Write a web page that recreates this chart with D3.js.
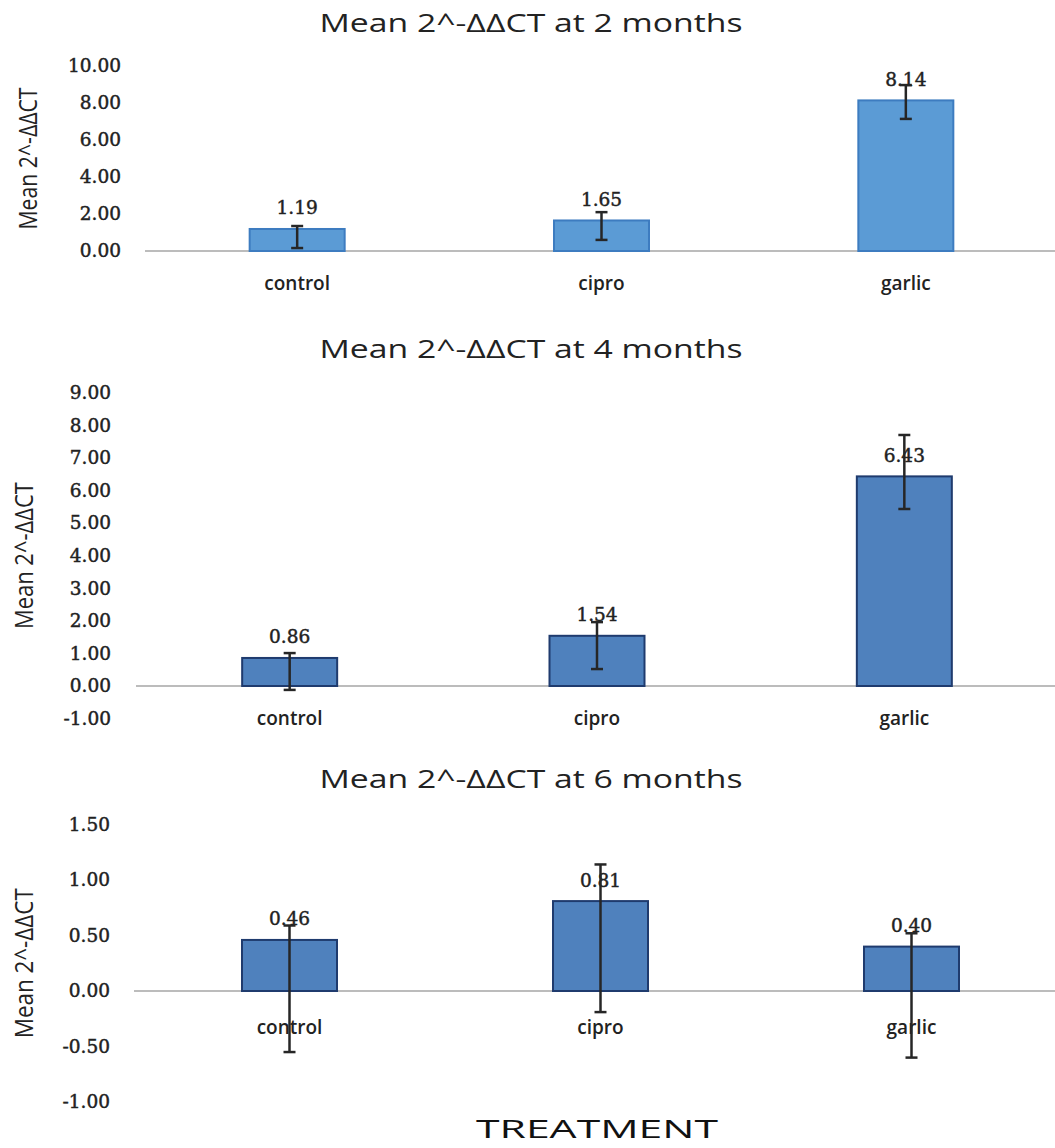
<!DOCTYPE html>
<html>
<head>
<meta charset="utf-8">
<script src="https://cdn.jsdelivr.net/npm/d3@7/dist/d3.min.js"></script>
<style>
  html, body { margin: 0; padding: 0; background: #fff; }
  svg { display: block; }
</style>
</head>
<body>
<svg id="chart" width="1055" height="1148"></svg>
<script>
// ---- data ----
const categories = ["control", "cipro", "garlic"];
const titles = ["Mean 2^-ΔΔCT at 2 months", "Mean 2^-ΔΔCT at 4 months", "Mean 2^-ΔΔCT at 6 months"];
const yAxisLabel = "Mean 2^-ΔΔCT";
const xAxisLabel = "TREATMENT";

const means2 = [1.19, 1.65, 8.14];
const errHigh2 = [1.35, 2.10, 8.97];
const errLow2 = [0.16, 0.60, 7.14];

const means4 = [0.86, 1.54, 6.43];
const errHigh4 = [1.01, 1.96, 7.70];
const errLow4 = [-0.12, 0.52, 5.43];

const means6 = [0.46, 0.81, 0.40];
const errHigh6 = [0.59, 1.14, 0.52];
const errLow6 = [-0.55, -0.19, -0.60];

const ticks2 = [0, 2, 4, 6, 8, 10];
const ticks4 = [-1, 0, 1, 2, 3, 4, 5, 6, 7, 8, 9];
const ticks6 = [-1, -0.5, 0, 0.5, 1, 1.5];

// ---- layout ----
const panels = [
  { title: titles[0], means: means2, hi: errHigh2, lo: errLow2, ticks: ticks2, domain: [0, 10], yRange: [251, 66],
    xRange: [145, 1058], tickPad: 24, titleY: 32, yLabelX: 27, yLabelLen: 142, catDy: 32,
    fill: "#5B9BD5", stroke: "#3d7cc0" },
  { title: titles[1], means: means4, hi: errHigh4, lo: errLow4, ticks: ticks4, domain: [-1, 9], yRange: [718.6, 392.6],
    xRange: [136, 1058], tickPad: 25, titleY: 358, yLabelX: 23, yLabelLen: 147, catDy: 32,
    fill: "#4F81BD", stroke: "#1f3b6e" },
  { title: titles[2], means: means6, hi: errHigh6, lo: errLow6, ticks: ticks6, domain: [-1, 1.5], yRange: [1102, 824.5],
    xRange: [134, 1067], tickPad: 24, titleY: 788, yLabelX: 23, yLabelLen: 150, catDy: 36,
    fill: "#4F81BD", stroke: "#1f3b6e" }
];

const svg = d3.select("#chart");
const barW = 95;
const capW = 12;

function serifStyle(sel) {
  sel.attr("font-family", "DejaVu Serif")
    .attr("font-size", 18.5)
    .attr("fill", "#222")
    .attr("stroke", "#222")
    .attr("stroke-width", 0.45);
}

panels.forEach(p => {
  const g = svg.append("g");
  const y = d3.scaleLinear().domain(p.domain).range(p.yRange);
  const x = d3.scalePoint().domain(categories).range(p.xRange).padding(0.5);

  // title
  g.append("text")
    .attr("x", 531).attr("y", p.titleY)
    .attr("text-anchor", "middle")
    .attr("font-family", "Open Sans")
    .attr("font-size", 25)
    .attr("fill", "#222")
    .attr("textLength", 423)
    .attr("lengthAdjust", "spacingAndGlyphs")
    .text(p.title);

  // y axis label
  const yMid = (p.yRange[0] + p.yRange[1]) / 2;
  g.append("text")
    .attr("transform", `translate(${p.yLabelX},${yMid}) rotate(-90)`)
    .attr("text-anchor", "middle")
    .attr("dominant-baseline", "central")
    .attr("font-family", "Open Sans")
    .attr("font-size", 25)
    .attr("fill", "#222")
    .attr("textLength", p.yLabelLen)
    .attr("lengthAdjust", "spacingAndGlyphs")
    .text(yAxisLabel);

  // y axis ticks (labels only)
  const ax = g.append("g")
    .attr("transform", `translate(${p.xRange[0]},0)`)
    .call(d3.axisLeft(y).tickValues(p.ticks).tickSize(0).tickPadding(p.tickPad)
      .tickFormat(d => d.toFixed(2)));
  ax.select(".domain").remove();
  ax.selectAll("text").call(serifStyle);

  // zero baseline
  g.append("line")
    .attr("x1", p.xRange[0]).attr("x2", Math.min(p.xRange[1], 1055))
    .attr("y1", y(0)).attr("y2", y(0))
    .attr("stroke", "#a6a6a6").attr("stroke-width", 1.5);

  // bars
  g.selectAll("rect.bar").data(categories).join("rect")
    .attr("class", "bar")
    .attr("x", d => x(d) - barW / 2)
    .attr("width", barW)
    .attr("y", (d, i) => Math.min(y(p.means[i]), y(0)))
    .attr("height", (d, i) => Math.abs(y(p.means[i]) - y(0)))
    .attr("fill", p.fill)
    .attr("stroke", p.stroke)
    .attr("stroke-width", 2);

  // category labels
  g.selectAll("text.cat").data(categories).join("text")
    .attr("class", "cat")
    .attr("x", d => x(d))
    .attr("y", y(0) + p.catDy)
    .attr("text-anchor", "middle")
    .attr("dominant-baseline", "central")
    .attr("font-family", "Open Sans")
    .attr("font-weight", 600)
    .attr("font-size", 19)
    .attr("fill", "#222")
    .text(d => d);

  // data labels
  g.selectAll("text.val").data(categories).join("text")
    .attr("class", "val")
    .attr("x", d => x(d))
    .attr("y", (d, i) => y(p.means[i]) - 21)
    .attr("text-anchor", "middle")
    .attr("dominant-baseline", "central")
    .call(serifStyle)
    .text((d, i) => p.means[i].toFixed(2));

  // error bars
  const eb = g.selectAll("g.err").data(categories).join("g").attr("class", "err")
    .attr("stroke", "#262626").attr("stroke-width", 2.5);
  eb.append("line")
    .attr("x1", d => x(d)).attr("x2", d => x(d))
    .attr("y1", (d, i) => y(p.hi[i])).attr("y2", (d, i) => y(p.lo[i]));
  eb.append("line")
    .attr("x1", d => x(d) - capW / 2).attr("x2", d => x(d) + capW / 2)
    .attr("y1", (d, i) => y(p.hi[i])).attr("y2", (d, i) => y(p.hi[i]));
  eb.append("line")
    .attr("x1", d => x(d) - capW / 2).attr("x2", d => x(d) + capW / 2)
    .attr("y1", (d, i) => y(p.lo[i])).attr("y2", (d, i) => y(p.lo[i]));
});

// x axis title
svg.append("text")
  .attr("x", 597).attr("y", 1138)
  .attr("text-anchor", "middle")
  .attr("font-family", "Open Sans")
  .attr("font-size", 25)
  .attr("fill", "#111")
  .attr("textLength", 242)
  .attr("lengthAdjust", "spacingAndGlyphs")
  .text(xAxisLabel);
</script>
</body>
</html>
